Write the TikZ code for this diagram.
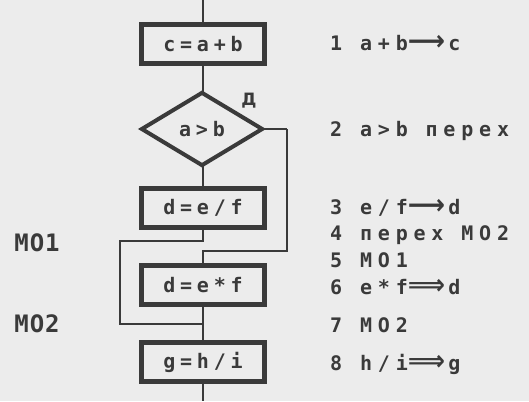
\documentclass[tikz,border=0pt]{standalone}
\usepackage{fontspec}
\usepackage{graphicx}
\usetikzlibrary{shapes.geometric}
\setmainfont{DejaVu Sans}
\newfontfamily\pixfont[LetterSpace=24]{DejaVu Sans Mono}
\newfontfamily\listfont[LetterSpace=29]{DejaVu Sans Mono}
\newfontfamily\labfont[LetterSpace=4]{DejaVu Sans Mono}
\newfontfamily\symfont{DejaVu Sans}
\definecolor{paper}{RGB}{236,236,236}
\definecolor{ink}{RGB}{58,58,58}
\newcommand\thinarr{\scalebox{1.3}[1.4]{\symfont\bfseries ⟶}\,}
\newcommand\dblarr{\scalebox{1.3}[1.4]{\symfont\bfseries ⟹}\,}
\tikzset{
  opbox/.style={draw=ink, fill=paper, line width=5pt, minimum width=123pt,
    minimum height=39pt, inner sep=0pt, text=ink,
    font=\fontsize{20}{20}\pixfont\bfseries},
  cond/.style={diamond, draw=ink, fill=paper, line width=4pt, minimum width=122pt,
    minimum height=74pt, inner sep=0pt, aspect=1.6, text=ink,
    font=\fontsize{20}{20}\pixfont\bfseries},
  flow/.style={draw=ink, line width=2.5pt},
  listing/.style={anchor=west, inner sep=0pt, text=ink,
    font=\fontsize{20}{20}\listfont\bfseries},
  marklab/.style={inner sep=0pt, text=ink, font=\fontsize{24}{24}\labfont\bfseries}
}
\begin{document}
\begin{tikzpicture}[x=1pt,y=-1pt]
  \fill[paper] (0,0) rectangle (529,401);
  \useasboundingbox (0,0) rectangle (529,401);

  % flow line ends and bends
  \coordinate (top) at (203,0);
  \coordinate (bottom) at (203,401);
  \coordinate (r1) at (287,129);
  \coordinate (r2) at (287,251);
  \coordinate (j1) at (203,251);
  \coordinate (l1) at (203,241);
  \coordinate (l2) at (120,241);
  \coordinate (l3) at (120,324);
  \coordinate (j2) at (203,324);

  \draw[flow] (top) -- (203,44);
  \draw[flow] (203,44) -- (203,129);
  \draw[flow] (203,129) -- (203,208);
  \draw[flow] (r1) -- (r2) -- (j1) -- (203,285);
  \draw[flow] (203,208) -- (l1) -- (l2) -- (l3) -- (j2);
  \draw[flow] (203,285) -- (203,362);
  \draw[flow] (203,362) -- (bottom);

  \node[opbox] (s1) at (203,44) {c=a+b};
  \node[cond]  (s2) at (202,129) {a>b};
  \node[opbox] (s3) at (203,208) {d=e/f};
  \node[opbox] (s4) at (203,285) {d=e*f};
  \node[opbox] (s5) at (203,362) {g=h/i};
  \draw[flow] (s2.east) -- (r1);

  \node[text=ink, inner sep=0pt, font=\fontsize{17}{17}\selectfont\bfseries] (yes) at (249,101) {Д};

  % labels of the jumps
  \node[marklab] (m1) at (37,243) {MO1};
  \node[marklab] (m2) at (37,324) {MO2};

  % program listing
  \node[listing] (p1) at (330,43)  {1 a+b\thinarr c};
  \node[listing] (p2) at (330,131) {2 a>b перех};
  \node[listing] (p3) at (330,208) {3 e/f\thinarr d};
  \node[listing] (p4) at (330,235) {4 перех MO2};
  \node[listing] (p5) at (330,260) {5 MO1};
  \node[listing] (p6) at (330,287) {6 e*f\dblarr d};
  \node[listing] (p7) at (330,325) {7 MO2};
  \node[listing] (p8) at (330,364) {8 h/i\dblarr g};
\end{tikzpicture}
\end{document}
